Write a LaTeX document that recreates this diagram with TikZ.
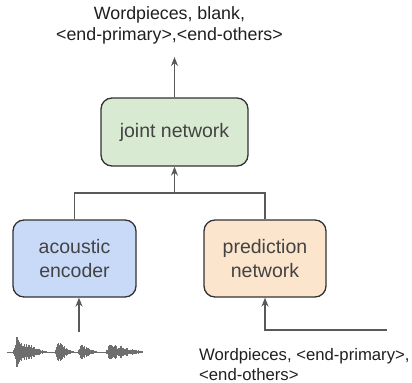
\documentclass[tikz,border=0pt]{standalone}
\usepackage{fontspec}
\setmainfont{Liberation Sans}
\usepackage{tikz}
\usetikzlibrary{arrows.meta,positioning,calc}
\definecolor{ink}{HTML}{1F1F1F}
\definecolor{boxtext}{HTML}{434343}
\definecolor{edge}{HTML}{333333}
\definecolor{wire}{HTML}{595959}
\definecolor{jointfill}{HTML}{D9EAD3}
\definecolor{encfill}{HTML}{C9DAF8}
\definecolor{predfill}{HTML}{FCE5CD}
\definecolor{wave}{HTML}{6E6E6E}
\tikzset{
  box/.style={draw=edge,line width=1.3bp,rounded corners=11bp,align=center,text=boxtext,inner sep=0pt,
    font=\fontsize{19.5bp}{24bp}\selectfont},
  arrow/.style={-{Stealth[length=9bp,width=7bp]},line width=1.4bp,color=wire},
  wire/.style={line width=1.4bp,color=wire},
  lbl/.style={text=ink,align=center,inner sep=0pt,font=\fontsize{17.8bp}{21bp}\selectfont},
}

\begin{document}
\begin{tikzpicture}[x=1bp,y=-1bp]
    \useasboundingbox (0,0) rectangle (412,383);
    % boxes
    \node[box,fill=jointfill,minimum width=147bp,minimum height=68bp] (joint) at (174.5,132) {joint network};
    \node[box,fill=encfill,minimum width=123bp,minimum height=77bp] (enc) at (74.5,258.5) {acoustic\\encoder};
    \node[box,fill=predfill,minimum width=122bp,minimum height=77bp] (pred) at (265,258.5) {prediction\\network};
    % labels
    \node[lbl] (outlbl) at (169.5,25) {Wordpieces, blank,\\\textless end-primary\textgreater,\textless end-others\textgreater};
    \node[lbl,align=left,anchor=north west,font=\fontsize{16.7bp}{20bp}\selectfont] (inlbl) at (199,348) {Wordpieces, \textless end-primary\textgreater,\\\textless end-others\textgreater};
    % connectors
    \coordinate (out) at (174.5,57);
    \coordinate (merge) at (174.5,193);
    \coordinate (wav) at (79,332);
    \coordinate (inp) at (387,330);
    \draw[arrow] (joint.north) -- (out);
    \draw[wire] (enc.north) |- (merge);
    \draw[wire] (pred.north) |- (merge);
    \draw[arrow] (merge) -- (joint.south);
    \draw[arrow] (wav) -- (wav |- enc.south);
    \draw[arrow] (inp) -| (pred.south);
    % waveform
    \pgfmathsetseed{7}
    \draw[wave,line width=0.8bp] (7,352) -- (143,352);
    \foreach \s/\e/\a in {13/46/17,55/73/13,78/97/10,106/143/10} {
      \pgfmathsetmacro\n{int((\e-\s)/0.6)}
      \foreach \i in {0,...,\n} {
        \pgfmathsetmacro\x{\s+\i*0.6}
        \pgfmathsetmacro\h{\a*min(1,(\x-\s)/3)*(1-(\x-\s)/(\e-\s))^1.3*(0.35+0.65*rnd)+0.8}
        \draw[wave,line width=0.6bp] (\x,352-\h) -- (\x,352+\h);
      }
    }
\end{tikzpicture}
\end{document}
